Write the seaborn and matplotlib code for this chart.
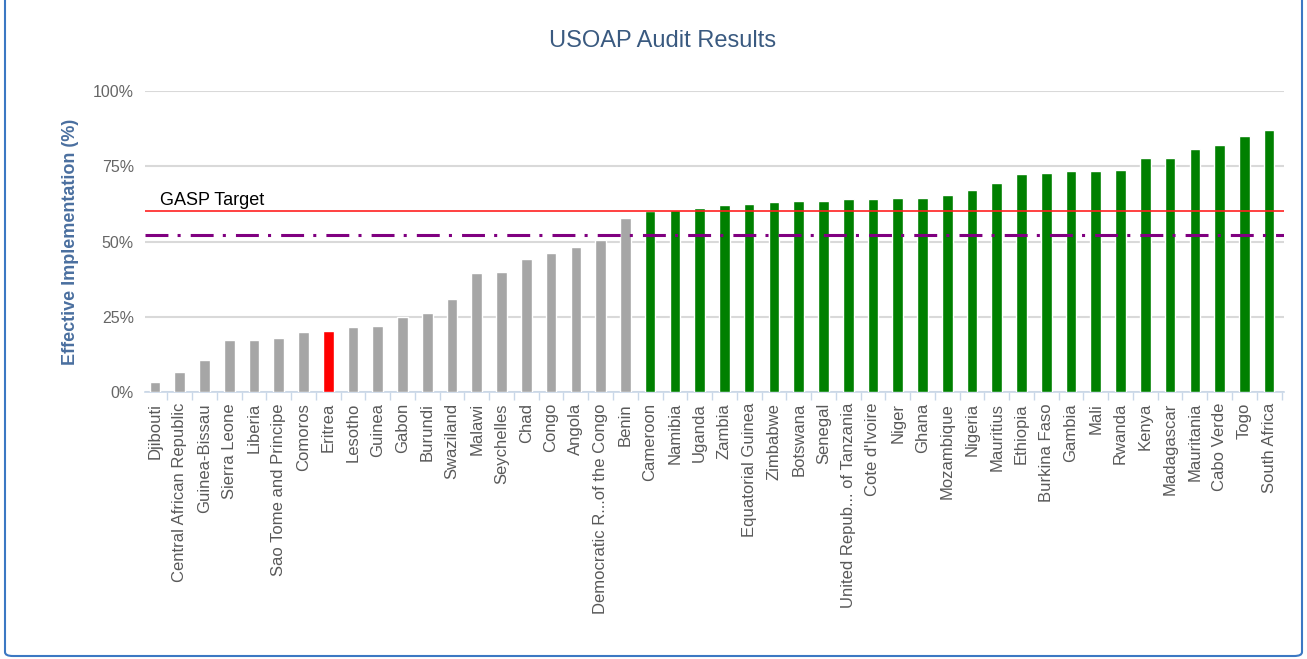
import numpy as np
import pandas as pd
import matplotlib
matplotlib.use("Agg")
import matplotlib.pyplot as plt
import seaborn as sns
from matplotlib.patches import FancyBboxPatch
from matplotlib.ticker import FixedLocator

# ---- data ----
countries = [
    "Djibouti", "Central African Republic", "Guinea-Bissau", "Sierra Leone", "Liberia",
    "Sao Tome and Principe", "Comoros", "Eritrea", "Lesotho", "Guinea", "Gabon",
    "Burundi", "Swaziland", "Malawi", "Seychelles", "Chad", "Congo", "Angola",
    "Democratic R...of the Congo", "Benin", "Cameroon", "Namibia", "Uganda", "Zambia",
    "Equatorial Guinea", "Zimbabwe", "Botswana", "Senegal", "United Repub... of Tanzania",
    "Cote d'Ivoire", "Niger", "Ghana", "Mozambique", "Nigeria", "Mauritius", "Ethiopia",
    "Burkina Faso", "Gambia", "Mali", "Rwanda", "Kenya", "Madagascar", "Mauritania",
    "Cabo Verde", "Togo", "South Africa",
]
ei_values = [
    3.4, 6.5, 10.6, 17.3, 17.3, 17.8, 19.8, 20.4, 21.5, 21.9, 25.0,
    26.1, 30.8, 39.4, 40.0, 44.1, 46.3, 48.3, 50.4, 57.7, 60.0, 60.5, 61.0, 62.0,
    62.5, 63.0, 63.4, 63.4, 64.0, 64.0, 64.5, 64.5, 65.5, 67.1, 69.3, 72.3,
    72.8, 73.4, 73.4, 73.9, 77.6, 77.6, 80.7, 82.2, 84.9, 86.9,
]
highlighted = ["Eritrea"]
gasp_target = 60.0
average_ei = 52.2
y_ticks = [0, 25, 50, 75, 100]
y_tick_labels = ["0%", "25%", "50%", "75%", "100%"]

df = pd.DataFrame({"country": countries, "ei": ei_values})
df["status"] = np.where(df["country"].isin(highlighted), "highlight",
                        np.where(df["ei"] >= gasp_target, "above", "below"))
palette = {"below": "#a6a6a6", "above": "#008000", "highlight": "#ff0000"}

# ---- figure ----
sns.set_theme(style="white")
plt.rcParams["font.family"] = ["Liberation Sans", "DejaVu Sans"]

W, H = 1307, 659
fig = plt.figure(figsize=(W / 100, H / 100), dpi=100)
ax = fig.add_axes([145 / W, 1 - 392 / H, (1284 - 145) / W, (392 - 91) / H])

sns.barplot(data=df, x="country", y="ei", hue="status", palette=palette,
            order=countries, dodge=False, width=0.43, legend=False,
            saturation=1, ax=ax, zorder=3)

ax.set_ylim(0, 100)
ax.set_xlim(-0.4, len(countries) - 0.4)
ax.set_yticks(y_ticks)
ax.set_yticklabels(y_tick_labels)
ax.yaxis.grid(True, color="#d9d9d9", linewidth=1.5, zorder=0)
ax.xaxis.grid(False)
for s in ["top", "right", "left"]:
    ax.spines[s].set_visible(False)
ax.spines["bottom"].set_color("#c9d7e8")
ax.spines["bottom"].set_linewidth(1.2)

ax.tick_params(axis="y", length=0, pad=8, labelsize=11.5, labelcolor="#666666")
ax.tick_params(axis="x", which="major", length=0, pad=8, labelsize=12,
               labelcolor="#595959", rotation=90)
ax.xaxis.set_minor_locator(FixedLocator(np.arange(-0.5, len(countries) + 0.5, 1.0)))
ax.tick_params(axis="x", which="minor", length=6, width=1, color="#c9d7e8",
               direction="out", bottom=True)
for lbl in ax.get_xticklabels():
    lbl.set_rotation(90)
    lbl.set_ha("center")
    lbl.set_va("top")

ax.set_xlabel("")
ax.set_ylabel("Effective Implementation (%)", fontsize=13, fontweight="bold",
              color="#4a6f9f", labelpad=10)

# reference lines
ax.axhline(gasp_target, color="#ff2020", linewidth=1.2, zorder=4)
ax.axhline(average_ei, color="#800080", linewidth=2.2, zorder=5,
           dashes=(7.5, 3, 1, 3.3))
ax.text(0.2, 63.6, "GASP Target", fontsize=13, color="#000000", va="center", ha="left")

fig.text(663 / W, 1 - 41 / H, "USOAP Audit Results", fontsize=17, color="#3a5a80",
         ha="center", va="center")

# outer frame
frame = FancyBboxPatch((5 / W, 3 / H), (1302 - 5) / W, 1.2,
                       boxstyle="round,pad=0,rounding_size=0.006",
                       transform=fig.transFigure, fill=False,
                       edgecolor="#3c78c3", linewidth=1.5, clip_on=False)
fig.patches.append(frame)

fig.savefig("out.png", dpi=100)
